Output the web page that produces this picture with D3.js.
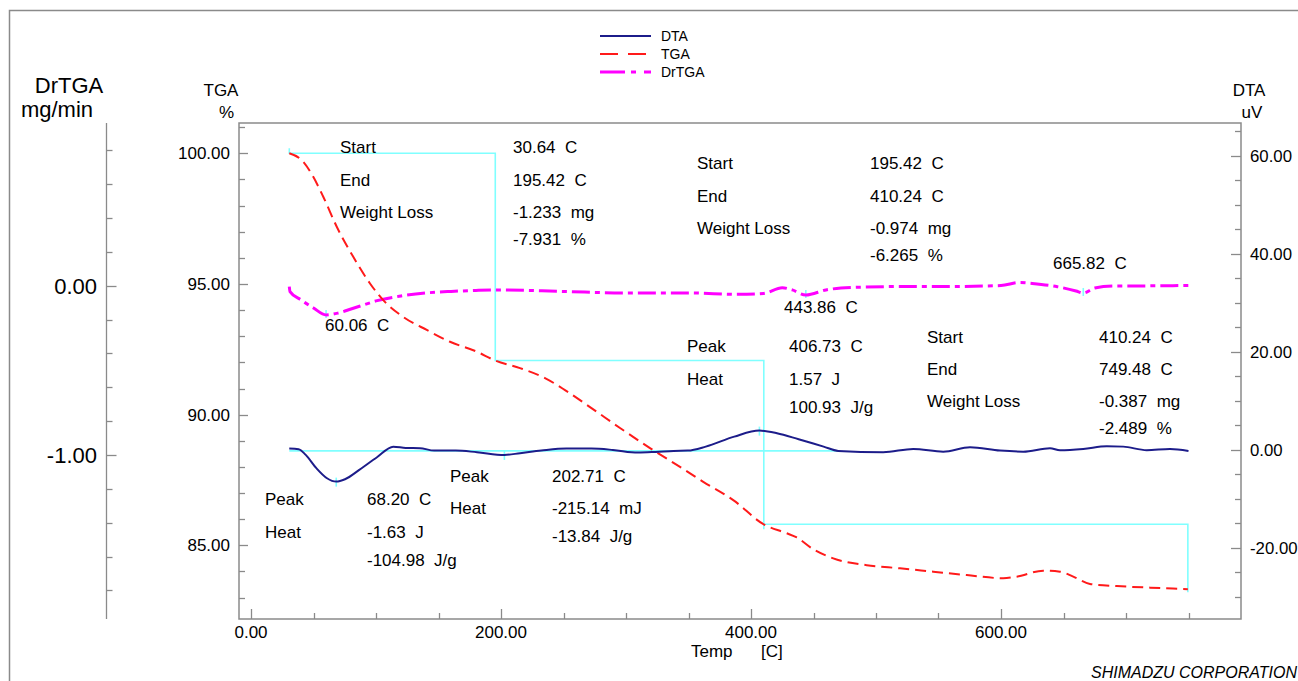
<!DOCTYPE html>
<html>
<head>
<meta charset="utf-8">
<script src="https://cdn.jsdelivr.net/npm/d3@7"></script>
<style>
  html, body { margin: 0; padding: 0; background: #fff; }
  svg { display: block; font-family: "Liberation Sans", Arial, sans-serif; }
  svg text { white-space: pre; }
</style>
</head>
<body>
<svg id="chart" width="1298" height="681"></svg>
<script>
// ---- thermal analysis data (temperature in C) ----
const dtaTemp = [30.6, 38.1, 43.8, 52.3, 60.8, 68.2, 75.2, 86.6, 100.8, 113.8, 123.8, 135.2, 146.6, 163.8, 180.8, 202.7, 215.2, 232.3, 252.3, 272.3, 289.5, 309.5, 323.8, 338.1, 349.5, 363.8, 386.6, 406.7, 420.8, 438.1, 458.1, 469.8, 505.8, 529.8, 553.8, 575.2, 599.2, 617.8, 639.2, 647.2, 665.8, 684.6, 697.8, 716.6, 735.2, 750.0];
const dtaValue = [0.27, 0.14, -1.02, -3.73, -5.78, -6.47, -5.98, -4.08, -1.49, 0.67, 0.41, 0.35, -0.14, -0.14, -0.47, -1.02, -0.67, -0.14, 0.27, 0.27, 0.0, -0.55, -0.41, -0.2, -0.14, 0.67, 2.71, 3.94, 3.41, 2.18, 0.67, -0.2, -0.47, 0.2, -0.35, 0.55, -0.14, -0.35, 0.35, -0.06, 0.2, 0.76, 0.67, -0.06, 0.2, -0.2];

const tgaTemp = [30.64, 41.8, 49.8, 57.8, 68.6, 81.8, 95.2, 105.8, 121.8, 140.6, 159.2, 180.6, 195.42, 215.2, 235.2, 251.2, 271.2, 295.2, 319.2, 343.2, 361.8, 385.8, 410.24, 428.6, 436.6, 449.8, 465.8, 492.6, 519.2, 545.8, 572.6, 601.8, 612.6, 633.8, 647.2, 657.8, 671.2, 692.6, 719.2, 749.48];
const tgaValue = [100.0, 99.68, 99.10, 98.34, 97.19, 96.04, 95.02, 94.38, 93.74, 93.24, 92.79, 92.41, 92.07, 91.78, 91.40, 90.94, 90.29, 89.49, 88.72, 88.00, 87.43, 86.73, 85.80, 85.46, 85.30, 84.85, 84.50, 84.24, 84.12, 83.99, 83.86, 83.74, 83.80, 84.03, 83.99, 83.80, 83.52, 83.44, 83.38, 83.32];

const drTemp = [30.64, 31.2, 40, 50, 60.06, 70, 80, 90, 100, 120, 140, 160, 180, 200, 250, 300, 350, 390, 410, 425, 433, 443.86, 460, 480, 520, 560, 600, 615, 625, 645, 660, 665.82, 675, 690, 720, 750];
const drValue = [-0.006, -0.035, -0.084, -0.132, -0.173, -0.161, -0.138, -0.114, -0.090, -0.061, -0.043, -0.034, -0.028, -0.025, -0.034, -0.043, -0.043, -0.051, -0.046, -0.012, -0.025, -0.055, -0.025, -0.011, -0.005, -0.005, 0.001, 0.019, 0.013, -0.006, -0.031, -0.043, -0.014, -0.002, -0.001, 0.001];

// weight-loss steps
const stepStart = [30.64, 195.42, 410.24];
const stepEnd = [195.42, 410.24, 749.48];
const stepLossMg = [-1.233, -0.974, -0.387];
const stepLossPct = [-7.931, -6.265, -2.489];

// DTA peaks
const dtaPeakTemp = [68.20, 202.71, 406.73];
const dtaPeakHeat = ["-1.63  J", "-215.14  mJ", "1.57  J"];
const dtaPeakHeatPerGram = [-104.98, -13.84, 100.93];
const dtaBaseline = -0.2;
const dtaBaselineEnd = 469.8;

// DrTGA peaks
const drPeakTemp = [60.06, 443.86, 665.82];

// axis ticks
const xTicks = [0, 200, 400, 600];
const tgaTicks = [100, 95, 90, 85];
const dtaTicks = [60, 40, 20, 0, -20];
const drTicks = [0, -1];

// ---- layout ----
const plot = { left: 239, right: 1241, top: 123, bottom: 619 };
const svg = d3.select("#chart");

const x = d3.scaleLinear().domain([-9.6, 792]).range([plot.left, plot.right]);
const yTGA = d3.scaleLinear().domain([82.18, 101.16]).range([plot.bottom, plot.top]);
const yDTA = d3.scaleLinear().domain([-34.5, 66.7]).range([plot.bottom, plot.top]);
const yDr = d3.scaleLinear().domain([-1.969, 0.961]).range([plot.bottom, plot.top]);

const frameColor = "#8a8a8a";
const cyan = "#80ffff";
const locale = d3.formatLocale({ decimal: ".", thousands: ",", grouping: [3], currency: ["", ""], minus: "-" });
const fmt2 = locale.format(".2f");
const fmt3 = locale.format(".3f");

// outer frame
svg.append("path")
  .attr("d", `M9.5,681 V10.5 H1298`)
  .attr("fill", "none").attr("stroke", frameColor).attr("stroke-width", 1.5);

// plot frame
svg.append("rect")
  .attr("x", plot.left).attr("y", plot.top)
  .attr("width", plot.right - plot.left).attr("height", plot.bottom - plot.top)
  .attr("fill", "none").attr("stroke", frameColor).attr("stroke-width", 1.5);

// ---- axes ----
function tickLines(g, values, isMajor, pos, len) {
  g.selectAll(null).data(values).enter().append("line")
    .each(function(d) {
      const L = isMajor(d) ? len[0] : len[1];
      d3.select(this).attr("x1", pos(d, 0).x).attr("y1", pos(d, 0).y)
        .attr("x2", pos(d, L).x).attr("y2", pos(d, L).y);
    })
    .attr("stroke", frameColor).attr("stroke-width", 1.3);
}
const axes = svg.append("g");

// X axis (ticks every 50 C, drawn inward)
tickLines(axes, d3.range(0, 751, 50), d => d % 200 === 0,
  (d, L) => ({ x: Math.round(x(d)) + 0.5, y: plot.bottom - L }), [10, 6]);
axes.selectAll(null).data(xTicks).enter().append("text")
  .attr("x", d => x(d)).attr("y", 638)
  .attr("text-anchor", "middle").attr("font-size", 17).text(fmt2);
axes.append("text").attr("x", 691).attr("y", 657).attr("font-size", 17).text("Temp");
axes.append("text").attr("x", 761).attr("y", 657).attr("font-size", 17).text("[C]");

// TGA axis (left, inward ticks)
tickLines(axes, d3.range(83, 101.5, 1), d => d % 5 === 0,
  (d, L) => ({ x: plot.left + L, y: Math.round(yTGA(d)) + 0.5 }), [9, 6]);
axes.selectAll(null).data(tgaTicks).enter().append("text")
  .attr("x", 230).attr("y", d => yTGA(d) + 6)
  .attr("text-anchor", "end").attr("font-size", 17).text(fmt2);
axes.append("text").attr("x", 221).attr("y", 96).attr("text-anchor", "middle").attr("font-size", 17).text("TGA");
axes.append("text").attr("x", 234).attr("y", 118).attr("text-anchor", "end").attr("font-size", 17).text("%");

// DTA axis (right, inward ticks)
tickLines(axes, d3.range(-30, 66, 5), d => d % 20 === 0,
  (d, L) => ({ x: plot.right - L, y: Math.round(yDTA(d)) + 0.5 }), [10, 6]);
axes.selectAll(null).data(dtaTicks).enter().append("text")
  .attr("x", 1250).attr("y", d => yDTA(d) + 6)
  .attr("font-size", 16.8).text(fmt2);
axes.append("text").attr("x", 1249).attr("y", 96).attr("text-anchor", "middle").attr("font-size", 17).text("DTA");
axes.append("text").attr("x", 1252).attr("y", 118).attr("text-anchor", "middle").attr("font-size", 17).text("uV");

// DrTGA axis (detached, far left)
const drX = 106.5;
axes.append("line").attr("x1", drX).attr("x2", drX).attr("y1", plot.top).attr("y2", plot.bottom)
  .attr("stroke", frameColor).attr("stroke-width", 1.3);
tickLines(axes, d3.range(-9, 5, 1).map(d => d / 5), d => Math.abs(d - Math.round(d)) < 1e-6,
  (d, L) => ({ x: drX + L, y: Math.round(yDr(d)) + 0.5 }), [10, 6]);
axes.selectAll(null).data(drTicks).enter().append("text")
  .attr("x", 97).attr("y", d => yDr(d) + 8)
  .attr("text-anchor", "end").attr("font-size", 22).text(fmt2);
axes.append("text").attr("x", 69).attr("y", 93).attr("text-anchor", "middle").attr("font-size", 22).text("DrTGA");
axes.append("text").attr("x", 57).attr("y", 117).attr("text-anchor", "middle").attr("font-size", 22).text("mg/min");

// ---- analysis guide lines (cyan) ----
const guides = svg.append("g").attr("stroke", cyan).attr("stroke-width", 1.6).attr("fill", "none");
let level = 100;
const stepPts = [[x(stepStart[0]), yTGA(level) - 5], [x(stepStart[0]), yTGA(level)]];
stepStart.forEach((s, i) => {
  const next = level + stepLossPct[i];
  stepPts.push([x(stepEnd[i]), yTGA(level)]);
  stepPts.push([x(stepEnd[i]), yTGA(next)]);
  level = next;
});
stepPts.push([x(stepEnd[2]), yTGA(level) + 3]);
guides.append("path").attr("d", d3.line()(stepPts));
// step drop at 410 C extends slightly below the level
const lvl2 = 100 + stepLossPct[0] + stepLossPct[1];
guides.append("line").attr("x1", x(stepEnd[1])).attr("x2", x(stepEnd[1]))
  .attr("y1", yTGA(lvl2)).attr("y2", yTGA(lvl2) + 5);

// DTA baseline
guides.append("line").attr("x1", x(stepStart[0])).attr("x2", x(dtaBaselineEnd))
  .attr("y1", yDTA(dtaBaseline)).attr("y2", yDTA(dtaBaseline));

// peak markers
function interp(ts, vs, t) {
  const i = d3.bisectLeft(ts, t);
  if (i <= 0) return vs[0];
  if (i >= ts.length) return vs[vs.length - 1];
  const t0 = ts[i - 1], t1 = ts[i];
  if (t1 === t0) return vs[i];
  return vs[i - 1] + (vs[i] - vs[i - 1]) * (t - t0) / (t1 - t0);
}
dtaPeakTemp.forEach(t => {
  const yy = yDTA(interp(dtaTemp, dtaValue, t));
  guides.append("line").attr("x1", x(t)).attr("x2", x(t)).attr("y1", yy - 4).attr("y2", yy + 5);
});
drPeakTemp.forEach(t => {
  const yy = yDr(interp(drTemp, drValue, t));
  guides.append("line").attr("x1", x(t)).attr("x2", x(t)).attr("y1", yy - 5).attr("y2", yy + 3);
});

// ---- curves ----
const curves = svg.append("g").attr("fill", "none");
const lineGen = (ys) => d3.line().x(d => x(d[0])).y(d => ys(d[1])).curve(d3.curveMonotoneX);

curves.append("path")
  .attr("d", lineGen(yDr)(d3.zip(drTemp, drValue)))
  .attr("stroke", "#ff00ff").attr("stroke-width", 3).attr("stroke-dasharray", "18,5,5,5");

curves.append("path")
  .attr("d", lineGen(yTGA)(d3.zip(tgaTemp, tgaValue)))
  .attr("stroke", "#ff1a1a").attr("stroke-width", 2).attr("stroke-dasharray", "11,6");

curves.append("path")
  .attr("d", lineGen(yDTA)(d3.zip(dtaTemp, dtaValue)))
  .attr("stroke", "#1c1c8a").attr("stroke-width", 2);

// ---- annotations ----
const ann = svg.append("g").attr("font-size", 17).attr("fill", "#000");
function put(px, py, txt) { ann.append("text").attr("x", px).attr("y", py + 6).text(txt); }
const C = v => fmt2(v) + "  C";

// weight-loss blocks
const wlBlocks = [
  { lx: 340, vx: 513, y0: 147, dy: 32.5 },
  { lx: 697, vx: 870, y0: 163, dy: 32.5 },
  { lx: 927, vx: 1099, y0: 337, dy: 32 }
];
wlBlocks.forEach((b, i) => {
  put(b.lx, b.y0, "Start");           put(b.vx, b.y0, C(stepStart[i]));
  put(b.lx, b.y0 + b.dy, "End");      put(b.vx, b.y0 + b.dy, C(stepEnd[i]));
  put(b.lx, b.y0 + 2 * b.dy, "Weight Loss"); put(b.vx, b.y0 + 2 * b.dy, fmt3(stepLossMg[i]) + "  mg");
  put(b.vx, b.y0 + 2 * b.dy + 27, fmt3(stepLossPct[i]) + "  %");
});

// DTA peak blocks
const pkBlocks = [
  { lx: 265, vx: 367, y0: 499, dy: 33 },
  { lx: 450, vx: 552, y0: 476, dy: 32 },
  { lx: 687, vx: 789, y0: 346, dy: 33 }
];
pkBlocks.forEach((b, i) => {
  put(b.lx, b.y0, "Peak");       put(b.vx, b.y0, C(dtaPeakTemp[i]));
  put(b.lx, b.y0 + b.dy, "Heat"); put(b.vx, b.y0 + b.dy, dtaPeakHeat[i]);
  put(b.vx, b.y0 + b.dy + 28, fmt2(dtaPeakHeatPerGram[i]) + "  J/g");
});

// DrTGA peak labels
const drLabelPos = [[325, 325], [784, 307], [1053, 263]];
drPeakTemp.forEach((t, i) => put(drLabelPos[i][0], drLabelPos[i][1], C(t)));

// ---- legend ----
const legend = svg.append("g");
const legendItems = [
  { name: "DTA", color: "#1c1c8a", w: 2, dash: null, y: 36 },
  { name: "TGA", color: "#ff1a1a", w: 2, dash: "18,10", y: 54 },
  { name: "DrTGA", color: "#ff00ff", w: 3, dash: "25,6,5,8", y: 72 }
];
legendItems.forEach(it => {
  legend.append("line").attr("x1", 600).attr("x2", 651).attr("y1", it.y).attr("y2", it.y)
    .attr("stroke", it.color).attr("stroke-width", it.w).attr("stroke-dasharray", it.dash);
  legend.append("text").attr("x", 661).attr("y", it.y + 5).attr("font-size", 14).text(it.name);
});

// maker credit
svg.append("text").attr("x", 1297).attr("y", 678).attr("text-anchor", "end")
  .attr("font-size", 16).attr("font-style", "italic").text("SHIMADZU CORPORATION");
</script>
</body>
</html>
